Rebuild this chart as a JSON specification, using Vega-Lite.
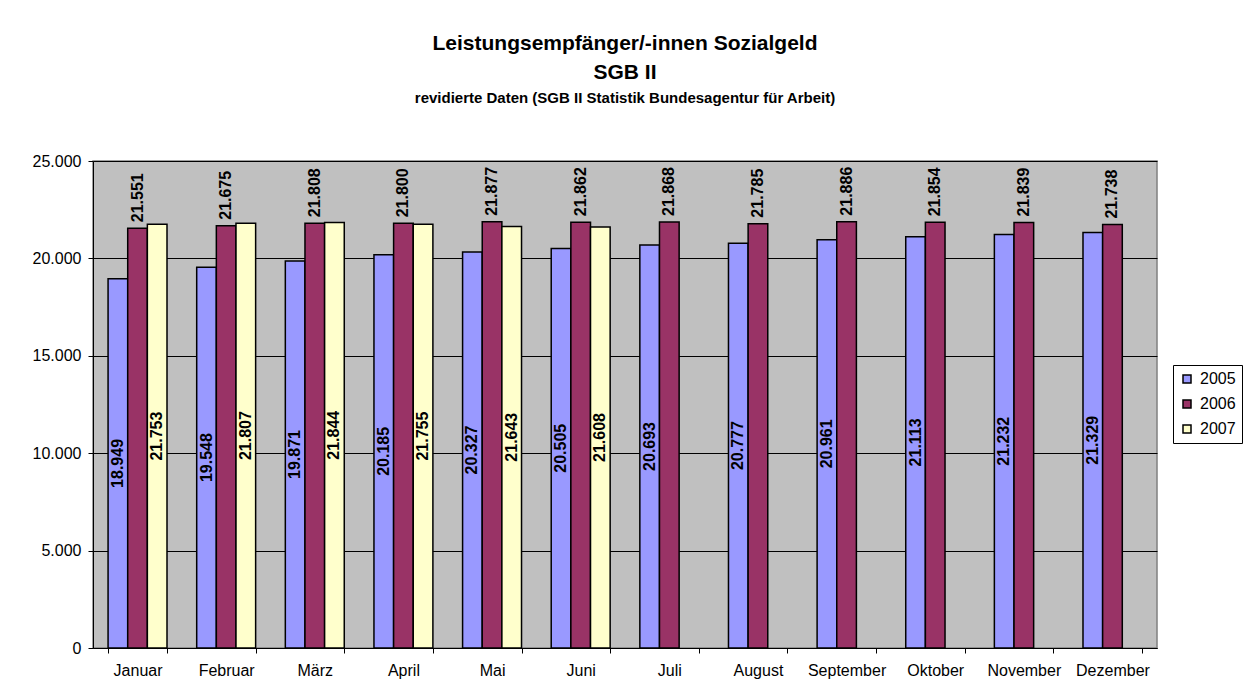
{
  "$schema": "https://vega.github.io/schema/vega-lite/v6.json",
  "width": 1064,
  "height": 487,
  "autosize": {"type": "none"},
  "padding": {"left": 93, "top": 161, "right": 87, "bottom": 52},
  "background": "white",
  "title": {
    "text": ["Leistungsempfänger/-innen Sozialgeld", "SGB II"],
    "subtitle": "revidierte Daten (SGB II Statistik Bundesagentur für Arbeit)",
    "anchor": "middle",
    "frame": "group",
    "font": "Liberation Sans",
    "fontSize": 21,
    "fontWeight": "bold",
    "lineHeight": 29,
    "color": "black",
    "subtitleFont": "Liberation Sans",
    "subtitleFontSize": 15,
    "subtitleFontWeight": "bold",
    "subtitleColor": "black",
    "subtitlePadding": 8,
    "offset": 47
  },
  "data": {
    "values": [
      {"month": "Januar", "year": "2005", "v": 18949},
      {"month": "Februar", "year": "2005", "v": 19548},
      {"month": "März", "year": "2005", "v": 19871},
      {"month": "April", "year": "2005", "v": 20185},
      {"month": "Mai", "year": "2005", "v": 20327},
      {"month": "Juni", "year": "2005", "v": 20505},
      {"month": "Juli", "year": "2005", "v": 20693},
      {"month": "August", "year": "2005", "v": 20777},
      {"month": "September", "year": "2005", "v": 20961},
      {"month": "Oktober", "year": "2005", "v": 21113},
      {"month": "November", "year": "2005", "v": 21232},
      {"month": "Dezember", "year": "2005", "v": 21329},
      {"month": "Januar", "year": "2006", "v": 21551},
      {"month": "Februar", "year": "2006", "v": 21675},
      {"month": "März", "year": "2006", "v": 21808},
      {"month": "April", "year": "2006", "v": 21800},
      {"month": "Mai", "year": "2006", "v": 21877},
      {"month": "Juni", "year": "2006", "v": 21862},
      {"month": "Juli", "year": "2006", "v": 21868},
      {"month": "August", "year": "2006", "v": 21785},
      {"month": "September", "year": "2006", "v": 21886},
      {"month": "Oktober", "year": "2006", "v": 21854},
      {"month": "November", "year": "2006", "v": 21839},
      {"month": "Dezember", "year": "2006", "v": 21738},
      {"month": "Januar", "year": "2007", "v": 21753},
      {"month": "Februar", "year": "2007", "v": 21807},
      {"month": "März", "year": "2007", "v": 21844},
      {"month": "April", "year": "2007", "v": 21755},
      {"month": "Mai", "year": "2007", "v": 21643},
      {"month": "Juni", "year": "2007", "v": 21608}
    ]
  },
  "encoding": {
    "x": {
      "field": "month",
      "type": "nominal",
      "sort": ["Januar", "Februar", "März", "April", "Mai", "Juni", "Juli", "August", "September", "Oktober", "November", "Dezember"],
      "scale": {"paddingInner": 0.335, "paddingOuter": 0.17},
      "axis": {
        "title": null,
        "labelAngle": 0,
        "labelFont": "Liberation Sans",
        "labelFontSize": 16,
        "labelColor": "black",
        "labelPadding": 9,
        "tickBand": "extent",
        "tickColor": "black",
        "tickSize": 5,
        "domainColor": "black",
        "domainWidth": 1
      }
    },
    "xOffset": {"field": "year", "type": "nominal", "scale": {"paddingInner": 0, "paddingOuter": 0}}
  },
  "layer": [
    {
      "mark": {"type": "bar", "stroke": "black", "strokeWidth": 1.5},
      "encoding": {
        "y": {
          "field": "v",
          "type": "quantitative",
          "scale": {"domain": [0, 25000], "nice": false},
          "axis": {
            "title": null,
            "values": [0, 5000, 10000, 15000, 20000, 25000],
            "format": ",d",
            "labelFont": "Liberation Sans",
            "labelFontSize": 16,
            "labelColor": "black",
            "labelPadding": 7,
            "tickColor": "black",
            "tickSize": 5,
            "domainColor": "black",
            "grid": true,
            "gridColor": "black",
            "gridWidth": 1
          }
        },
        "color": {
          "field": "year",
          "type": "nominal",
          "scale": {"domain": ["2005", "2006", "2007"], "range": ["#9999FF", "#993366", "#FFFFCC"]},
          "legend": {
            "title": null,
            "orient": "none",
            "legendX": 1080,
            "legendY": 204,
            "direction": "vertical",
            "fillColor": "white",
            "strokeColor": "black",
            "padding": 6,
            "symbolType": "square",
            "symbolSize": 64,
            "symbolStrokeColor": "black",
            "symbolStrokeWidth": 1.5,
            "labelFont": "Liberation Sans",
            "labelFontSize": 16,
            "labelColor": "black",
            "labelOffset": 5,
            "rowPadding": 9
          }
        }
      }
    },
    {
      "transform": [{"filter": "datum.year == '2006'"}],
      "mark": {"type": "text", "angle": 270, "align": "left", "baseline": "middle", "dx": 6, "font": "Liberation Sans", "fontSize": 16, "fontWeight": "bold", "color": "black"},
      "encoding": {
        "y": {"field": "v", "type": "quantitative", "scale": {"domain": [0, 25000], "nice": false}, "axis": null},
        "text": {"field": "v", "type": "quantitative", "format": ",d"}
      }
    },
    {
      "transform": [{"filter": "datum.year != '2006'"}],
      "mark": {"type": "text", "angle": 270, "align": "center", "baseline": "middle", "font": "Liberation Sans", "fontSize": 16, "fontWeight": "bold", "color": "black"},
      "encoding": {
        "y": {"field": "v", "type": "quantitative", "scale": {"domain": [0, 50000], "nice": false}, "axis": null},
        "text": {"field": "v", "type": "quantitative", "format": ",d"}
      }
    }
  ],
  "resolve": {"scale": {"y": "independent"}},
  "config": {
    "locale": {"number": {"decimal": ",", "thousands": ".", "grouping": [3], "currency": ["", " €"]}},
    "view": {"fill": "#C0C0C0", "stroke": "#808080", "strokeWidth": 1.5}
  }
}
